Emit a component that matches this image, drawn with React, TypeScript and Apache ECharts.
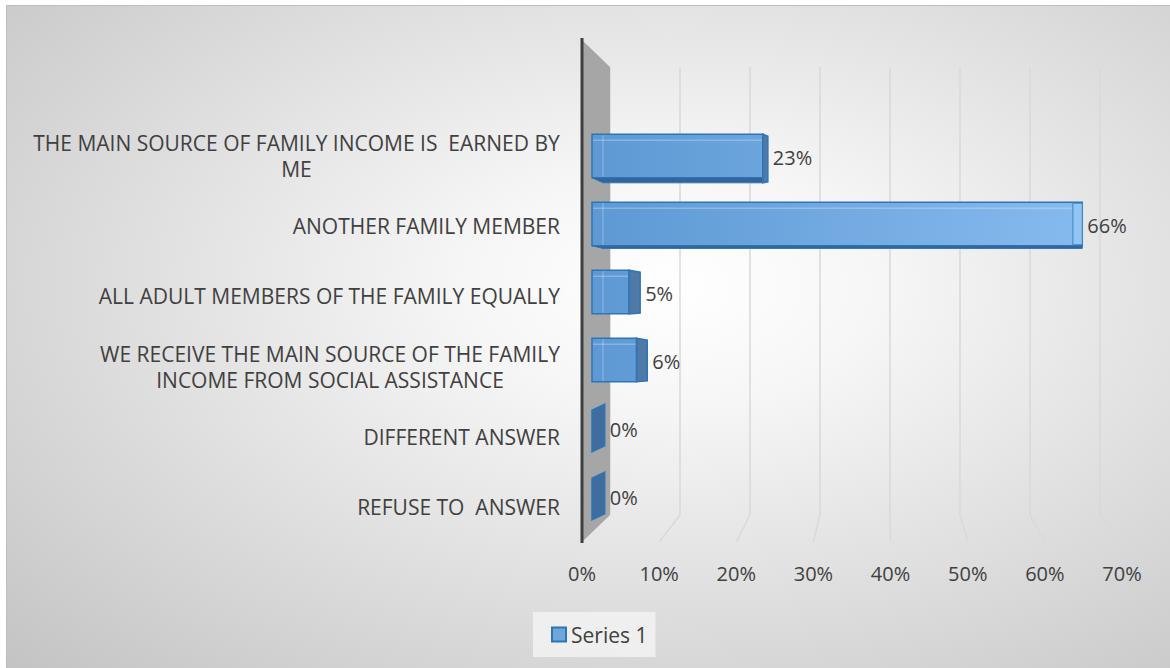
import React, { useEffect, useRef } from "react";
import * as echarts from "echarts";

const categories = [
  "THE MAIN SOURCE OF FAMILY INCOME IS  EARNED BY\nME",
  "ANOTHER FAMILY MEMBER",
  "ALL ADULT MEMBERS OF THE FAMILY EQUALLY",
  "WE RECEIVE THE MAIN SOURCE OF THE FAMILY\nINCOME FROM SOCIAL ASSISTANCE",
  "DIFFERENT ANSWER",
  "REFUSE TO  ANSWER",
];
const values = [0.23, 0.66, 0.05, 0.06, 0, 0];
const xTicks = [0, 0.1, 0.2, 0.3, 0.4, 0.5, 0.6, 0.7];
const seriesName = "Series 1";

const X_MAX = 0.7;
const FONT = "'Open Sans'";
const TEXT = "#404040";
const FRONT = { left: 582, top: 121, width: 540, height: 421 };
const BACK = { left: 610, top: 67, width: 490, height: 448 };
const BARS = { left: 592, top: 122, width: 520, height: 408 };
const VANISH_X = 874;
const VANISH_Y = 300;

const pct = (v: number) => `${Math.round(v * 100)}%`;

function measure(text: string, size: number): number {
  const ctx = document.createElement("canvas").getContext("2d");
  if (!ctx) return text.length * size * 0.6;
  ctx.font = `${size}px ${FONT}`;
  return ctx.measureText(text).width;
}

export default function App() {
  const ref = useRef<HTMLDivElement>(null);
  useEffect(() => {
    if (!ref.current) return;
    const chart = echarts.init(ref.current, undefined, { renderer: "svg" });
    const labelSize = 21;
    const lineH = 26;
    const rich: Record<string, any> = {
      s: { fontSize: labelSize, fontFamily: FONT, color: TEXT, lineHeight: lineH },
    };
    categories.forEach((c, i) => {
      const lines = c.split("\n");
      if (lines.length > 1) {
        const w = Math.max(...lines.map((l) => measure(l, labelSize)));
        rich["c" + i] = {
          width: Math.ceil(w),
          align: "center",
          fontSize: labelSize,
          fontFamily: FONT,
          color: TEXT,
          lineHeight: lineH,
        };
      }
    });

    const barGrad = new echarts.graphic.LinearGradient(
      592, 0, 1090, 0,
      [
        { offset: 0, color: "#5e99d4" },
        { offset: 1, color: "#86bbee" },
      ],
      true
    );

    const option: any = {
      animation: false,
      backgroundColor: "transparent",
      grid: [
        { ...FRONT },
        { ...BACK },
        { ...BARS },
      ],
      xAxis: [
        {
          gridIndex: 0,
          type: "value",
          min: 0,
          max: X_MAX,
          interval: 0.1,
          axisLine: { show: false },
          axisTick: { show: false },
          splitLine: { show: false },
          axisLabel: {
            formatter: (v: number) => pct(v),
            color: TEXT,
            fontSize: 20,
            fontFamily: FONT,
            margin: 21,
          },
        },
        {
          gridIndex: 1,
          type: "value",
          min: 0,
          max: X_MAX,
          interval: 0.1,
          axisLine: { show: false },
          axisTick: { show: false },
          axisLabel: { show: false },
          splitLine: { show: true, lineStyle: { color: "#d9d9d9", width: 1.5 } },
        },
        {
          gridIndex: 2,
          type: "value",
          min: 0,
          max: X_MAX,
          show: false,
        },
      ],
      yAxis: [
        {
          gridIndex: 0,
          type: "category",
          inverse: true,
          data: categories,
          axisLine: { show: false },
          axisTick: { show: false },
          axisLabel: {
            margin: 22,
            interval: 0,
            formatter: (value: string, idx: number) => {
              const lines = value.split("\n");
              if (lines.length === 1) return `{s|${value}}`;
              return lines.map((l) => `{c${idx}|${l}}`).join("\n");
            },
            rich,
          },
        },
        { gridIndex: 1, type: "value", min: 0, max: 1, show: false },
        { gridIndex: 2, type: "category", inverse: true, data: categories, show: false },
      ],
      legend: {
        data: [seriesName],
        left: 533,
        top: 612,
        icon: "rect",
        itemWidth: 14,
        itemHeight: 14,
        padding: [12, 8, 12, 18],
        backgroundColor: "rgba(246,246,246,0.75)",
        textStyle: { fontSize: 21, color: TEXT, fontFamily: FONT },
      },
      graphic: [
        {
          type: "polygon",
          z: 1,
          shape: {
            points: [
              [582, 40],
              [BACK.left, BACK.top],
              [BACK.left, BACK.top + BACK.height],
              [582, FRONT.top + FRONT.height],
            ],
          },
          style: { fill: "#a6a6a6" },
        },
        {
          type: "line",
          z: 1,
          shape: { x1: 582, y1: 38, x2: 582, y2: FRONT.top + FRONT.height + 1 },
          style: { stroke: "#3f3f3f", lineWidth: 3 },
        },
      ],
      series: [
        {
          type: "custom",
          name: "grid-floor",
          xAxisIndex: 0,
          yAxisIndex: 0,
          silent: true,
          z: 0,
          data: xTicks.map((v) => [v, 0]),
          renderItem: (params: any, api: any) => {
            const v = api.value(0);
            if (v === 0) return null;
            const cs = params.coordSys;
            const fx = api.coord([v, 0])[0];
            const fy = cs.y + cs.height;
            const bx = BACK.left + (v / X_MAX) * BACK.width;
            const by = BACK.top + BACK.height;
            return {
              type: "line",
              shape: { x1: bx, y1: by, x2: fx, y2: fy },
              style: { stroke: "#d9d9d9", lineWidth: 1.5 },
            };
          },
        },
        {
          type: "custom",
          name: seriesName,
          xAxisIndex: 2,
          yAxisIndex: 2,
          z: 3,
          itemStyle: { color: "#6ea6dc", borderColor: "#2e75b6", borderWidth: 1.5 },
          data: values.map((v, i) => [v, i]),
          renderItem: (params: any, api: any) => {
            const v = api.value(0);
            const idx = api.value(1);
            const p0 = api.coord([0, idx]);
            const p1 = api.coord([v, idx]);
            const band = api.size([0, 1])[1];
            const h = band * 0.64;
            const yc = p0[1];
            const yt = yc - h / 2;
            const yb = yc + h / 2;
            const x0 = p0[0];
            const x1 = p1[0];
            const depth = (VANISH_X - x1) * 0.045;
            const children: any[] = [];
            if (v > 0) {
              children.push({
                type: "rect",
                shape: { x: x0, y: yt, width: x1 - x0, height: h },
                style: { fill: barGrad, stroke: "#2e75b6", lineWidth: 1.5 },
              });
              children.push({
                type: "line",
                shape: { x1: x0 + 11, y1: yt + 1, x2: x0 + 11, y2: yb - 1 },
                style: { stroke: "rgba(255,255,255,0.22)", lineWidth: 1.5 },
              });
              children.push({
                type: "line",
                shape: { x1: x0 + 1, y1: yt + 6, x2: x1 - 1, y2: yt + 6 },
                style: { stroke: "rgba(255,255,255,0.25)", lineWidth: 1.5 },
              });
              const strip = (VANISH_Y - yc) * 0.035;
              if (strip > 1) {
                children.push({
                  type: "polygon",
                  shape: {
                    points: [
                      [x0, yb],
                      [x1, yb],
                      [x1, yb + strip],
                      [x0 + 11, yb + strip],
                    ],
                  },
                  style: { fill: "#34659a", stroke: "#2e75b6", lineWidth: 1 },
                });
              }
              if (depth > 0) {
                children.push({
                  type: "polygon",
                  shape: {
                    points: [
                      [x1, yt],
                      [x1 + depth, yt + 2],
                      [x1 + depth, yb + Math.max(strip, 0) - 1],
                      [x1, yb + Math.max(strip, 0)],
                    ],
                  },
                  style: { fill: "#4f7aa6", stroke: "#2e75b6", lineWidth: 1.5 },
                });
              } else {
                children.push({
                  type: "rect",
                  shape: { x: x1 + depth, y: yt + 1, width: -depth, height: h - 2 },
                  style: { fill: "#93c4f2", stroke: "#3d85c6", lineWidth: 1 },
                });
              }
            } else {
              children.push({
                type: "polygon",
                shape: {
                  points: [
                    [x0, yt + 4],
                    [x0 + depth, yt - 2],
                    [x0 + depth, yb - 4],
                    [x0, yb + 2],
                  ],
                },
                style: { fill: "#3f6d9f", stroke: "#2e75b6", lineWidth: 1.5 },
              });
            }
            children.push({
              type: "text",
              x: x1 + Math.max(depth, 0) + 5,
              y: yc + 1,
              style: {
                text: pct(v),
                fill: TEXT,
                fontSize: 20,
                fontFamily: FONT,
                verticalAlign: "middle",
                align: "left",
              },
            });
            return { type: "group", children };
          },
        },
      ],
    };
    chart.setOption(option);
    return () => chart.dispose();
  }, []);

  return (
    <div
      style={{
        position: "fixed",
        left: 0,
        top: 0,
        width: 1170,
        height: 668,
        background: "#ffffff",
        overflow: "hidden",
      }}
    >
      <div
        style={{
          position: "absolute",
          left: 6,
          top: 5,
          width: 1170,
          height: 668,
          boxSizing: "border-box",
          borderLeft: "1px solid #bdbdbd",
          borderTop: "1px solid #bdbdbd",
          background:
            "radial-gradient(ellipse farthest-corner at 57% 42%, #ffffff 0%, #f6f6f6 22%, #c3c3c3 100%)",
        }}
      />
      <div
        ref={ref}
        style={{ position: "absolute", left: 0, top: 0, width: 1170, height: 668 }}
      />
    </div>
  );
}
